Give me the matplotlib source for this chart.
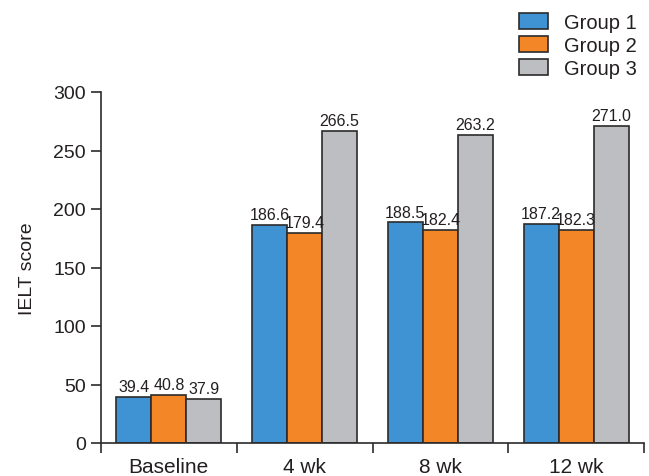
import matplotlib
matplotlib.use("Agg")
import matplotlib.pyplot as plt
import numpy as np

categories = ["Baseline", "4 wk", "8 wk", "12 wk"]
series_names = ["Group 1", "Group 2", "Group 3"]
group1 = [39.4, 186.6, 188.5, 187.2]
group2 = [40.8, 179.4, 182.4, 182.3]
group3 = [37.9, 266.5, 263.2, 271.0]
colors = ["#3f93d3", "#f38627", "#bdbec2"]
yticks = [0, 50, 100, 150, 200, 250, 300]

plt.rcParams["font.family"] = ["Liberation Sans", "DejaVu Sans"]

fig = plt.figure(figsize=(6.49, 4.77), dpi=100)
ax = fig.add_axes([101/649, 1-444/477, (644-101)/649, (444-93)/477])

x = np.arange(len(categories))
w = 0.258
for i, (vals, name, c) in enumerate(zip([group1, group2, group3], series_names, colors)):
    pos = x + (i - 1) * w
    ax.bar(pos, vals, width=w, color=c, edgecolor="#2b2b2b", linewidth=1.2, label=name, zorder=2)
    for p, v in zip(pos, vals):
        ax.annotate(f"{v:.1f}", (p, v), xytext=(0, 2), textcoords="offset points",
                    ha="center", va="bottom", fontsize=11.5, color="#231f20")

ax.set_xlim(-0.5, len(categories) - 0.5)
ax.set_ylim(0, 300)
ax.set_yticks(yticks)
ax.set_yticklabels([str(t) for t in yticks], fontsize=14, color="#231f20")
ax.set_xticks(np.arange(-0.5, len(categories)), labels=[""] * (len(categories) + 1))
ax.set_xticks(x, labels=categories, minor=True)
ax.tick_params(axis="x", which="minor", length=0, labelsize=15, pad=10, labelcolor="#231f20")
ax.tick_params(axis="x", which="major", length=7, width=1.2, color="#2b2b2b")
ax.tick_params(axis="y", length=7, width=1.2, color="#2b2b2b", pad=4)
for s in ["top", "right"]:
    ax.spines[s].set_visible(False)
for s in ["left", "bottom"]:
    ax.spines[s].set_linewidth(1.2)
    ax.spines[s].set_color("#2b2b2b")
ax.set_ylabel("IELT score", fontsize=14, color="#231f20", labelpad=12)

leg = fig.legend(loc="upper left", bbox_to_anchor=(519/649, 1-14/477), frameon=False,
                 fontsize=14.5, handlelength=1.44, handleheight=0.8, handletextpad=0.8,
                 labelspacing=0.2, borderpad=0, borderaxespad=0)
for t in leg.get_texts():
    t.set_color("#231f20")
for h in leg.legend_handles:
    h.set_linewidth(1.2)

fig.savefig("out.png", dpi=100)
